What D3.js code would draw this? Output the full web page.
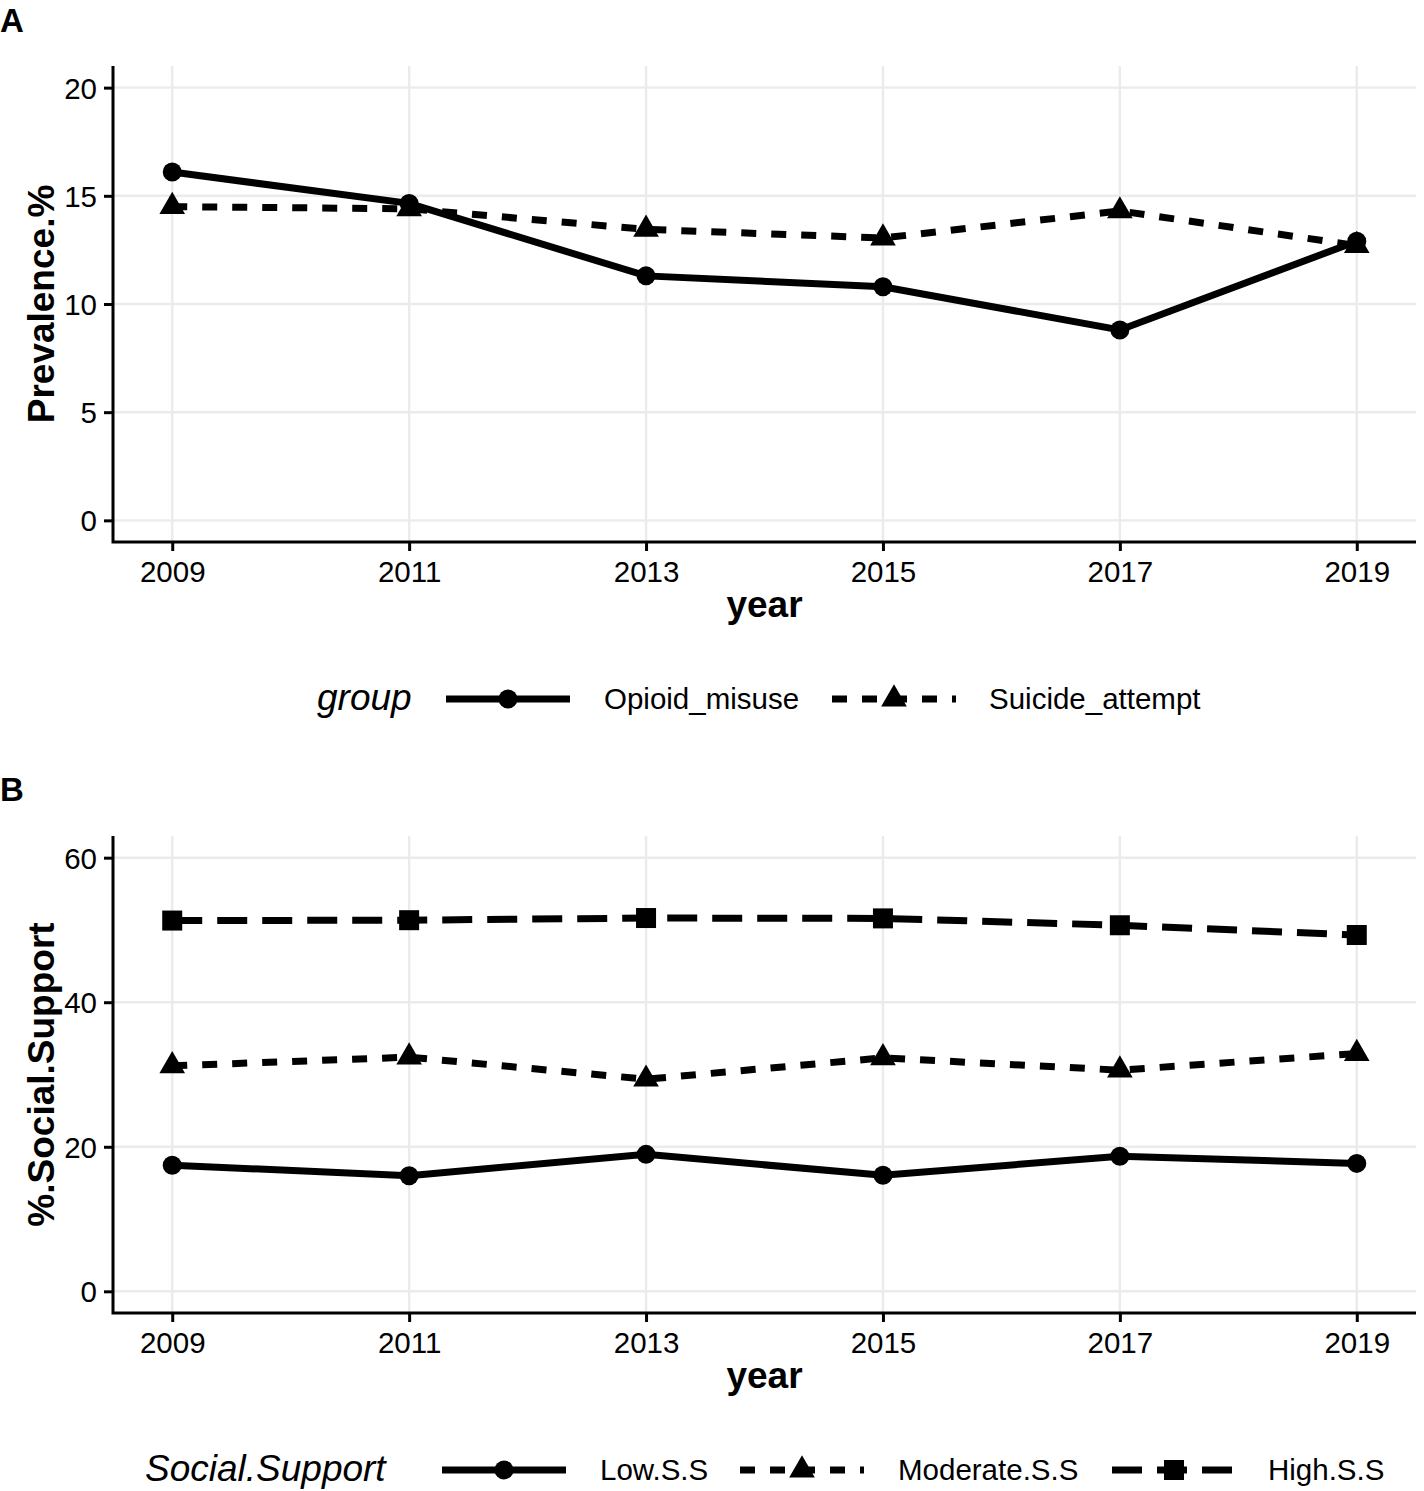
<!DOCTYPE html>
<html><head><meta charset="utf-8">
<script src="https://cdn.jsdelivr.net/npm/d3@7"></script>
<style>
body{margin:0;background:#fff}
svg{display:block}
text{font-family:"Liberation Sans",Arial,Helvetica,sans-serif;fill:#000}
</style>
</head><body>
<svg id="chart" width="1424" height="1491"></svg>
<script>
// ---- data ----
const years = [2009, 2011, 2013, 2015, 2017, 2019];
const opioidMisuse   = [16.1, 14.65, 11.3, 10.8, 8.8, 12.9];
const suicideAttempt = [14.5, 14.4, 13.45, 13.05, 14.3, 12.7];
const lowSS      = [17.45, 16.0, 18.95, 16.05, 18.7, 17.7];
const moderateSS = [31.2, 32.4, 29.35, 32.3, 30.6, 32.9];
const highSS     = [51.3, 51.35, 51.65, 51.6, 50.65, 49.3];
const yTicksA = [0, 5, 10, 15, 20];
const yTicksB = [0, 20, 40, 60];
const groupNamesA = ["Opioid_misuse", "Suicide_attempt"];
const groupNamesB = ["Low.S.S", "Moderate.S.S", "High.S.S"];

// ---- styles ----
const LW = 7;
const styles = {
  solid:    {dash: null,    shape: "circle"},
  dashed:   {dash: "15,15", shape: "triangle"},
  longdash: {dash: "30,15", shape: "square"}
};

const svg = d3.select("#chart");
const X0 = 113, X1 = 1416;

function marker(g, shape, x, y) {
  if (shape === "circle") {
    g.append("circle").attr("cx", x).attr("cy", y).attr("r", 9.5).attr("fill", "#000");
  } else if (shape === "triangle") {
    const r = 14.8, hw = r * Math.sqrt(3) / 2;
    g.append("path").attr("d", `M${x},${y - r}L${x + hw},${y + r / 2}L${x - hw},${y + r / 2}Z`).attr("fill", "#000");
  } else {
    g.append("rect").attr("x", x - 10).attr("y", y - 10).attr("width", 20).attr("height", 20).attr("fill", "#000");
  }
}

function panel(cfg) {
  const g = svg.append("g");
  const x = d3.scaleLinear().domain([2008.5, 2019.5]).range([X0, X1]);
  const y = d3.scaleLinear().domain(cfg.yDomain).range([cfg.yBottom, cfg.yTop]);

  // grid
  g.selectAll(".gy").data(cfg.yTicks).enter().append("line")
    .attr("x1", X0).attr("x2", X1).attr("y1", d => y(d)).attr("y2", d => y(d))
    .attr("stroke", "#ebebeb").attr("stroke-width", 2.4);
  g.selectAll(".gx").data(years).enter().append("line")
    .attr("x1", d => x(d)).attr("x2", d => x(d)).attr("y1", cfg.yTop).attr("y2", cfg.yBottom)
    .attr("stroke", "#ebebeb").attr("stroke-width", 2.4);

  // axes
  const xa = g.append("g").attr("transform", `translate(0,${cfg.yBottom})`)
    .call(d3.axisBottom(x).tickValues(years).tickFormat(d3.format("d")).tickSize(9).tickPadding(8));
  const ya = g.append("g").attr("transform", `translate(${X0},0)`)
    .call(d3.axisLeft(y).tickValues(cfg.yTicks).tickSize(9).tickPadding(7));
  [xa, ya].forEach(a => {
    a.select(".domain").remove();
    a.selectAll("line").attr("stroke", "#000").attr("stroke-width", 3);
    a.selectAll("text").attr("font-size", 29.5).attr("fill", "#000")
      .style("font-family", '"Liberation Sans",Arial,Helvetica,sans-serif');
  });
  xa.selectAll("text").attr("dy", null).attr("y", 40);
  ya.selectAll("text").attr("dy", "0.36em");
  g.append("path").attr("d", `M${X0},${cfg.yTop}V${cfg.yBottom}H${X1}`)
    .attr("fill", "none").attr("stroke", "#000").attr("stroke-width", 3);

  // titles
  g.append("text").attr("x", (X0 + X1) / 2).attr("y", cfg.yBottom + 75).attr("text-anchor", "middle")
    .attr("font-size", 37).attr("font-weight", "bold").text("year");
  g.append("text").attr("transform", `translate(54,${(cfg.yTop + cfg.yBottom) / 2}) rotate(-90)`)
    .attr("text-anchor", "middle").attr("font-size", 37).attr("font-weight", "bold").text(cfg.yTitle);
  g.append("text").attr("x", 0).attr("y", cfg.letterY).attr("font-size", 33).attr("font-weight", "bold").text(cfg.letter);

  // lines
  const line = d3.line().x((d, i) => x(years[i])).y(d => y(d));
  cfg.series.forEach(s => {
    const st = styles[s.style];
    g.append("path").datum(s.values).attr("d", line).attr("fill", "none")
      .attr("stroke", "#000").attr("stroke-width", LW)
      .attr("stroke-dasharray", st.dash);
  });
  cfg.series.forEach(s => {
    const st = styles[s.style];
    s.values.forEach((v, i) => marker(g, st.shape, x(years[i]), y(v)));
  });

  // legend
  const ly = cfg.legendY;
  g.append("text").attr("x", cfg.legendTitleX).attr("y", ly + 11).attr("font-size", 37)
    .attr("font-style", "italic").text(cfg.legendTitle);
  cfg.series.forEach((s, i) => {
    const st = styles[s.style];
    const k = cfg.legendKeys[i];
    g.append("line").attr("x1", k[0]).attr("x2", k[0] + 124).attr("y1", ly).attr("y2", ly)
      .attr("stroke", "#000").attr("stroke-width", LW).attr("stroke-dasharray", st.dash);
    marker(g, st.shape, k[0] + 62, ly);
    g.append("text").attr("x", k[1]).attr("y", ly + 10).attr("font-size", 29.5).text(s.name);
  });
}

panel({
  yDomain: [-1, 21], yTop: 66, yBottom: 542, yTicks: yTicksA,
  yTitle: "Prevalence.%", letter: "A", letterY: 32,
  series: [
    {name: groupNamesA[0], values: opioidMisuse, style: "solid"},
    {name: groupNamesA[1], values: suicideAttempt, style: "dashed"}
  ],
  legendY: 699, legendTitle: "group", legendTitleX: 317,
  legendKeys: [[446, 604], [832, 989]]
});

panel({
  yDomain: [-3, 63], yTop: 836, yBottom: 1313, yTicks: yTicksB,
  yTitle: "%.Social.Support", letter: "B", letterY: 801,
  series: [
    {name: groupNamesB[0], values: lowSS, style: "solid"},
    {name: groupNamesB[1], values: moderateSS, style: "dashed"},
    {name: groupNamesB[2], values: highSS, style: "longdash"}
  ],
  legendY: 1470, legendTitle: "Social.Support", legendTitleX: 145,
  legendKeys: [[442, 600], [740, 898], [1112, 1268]]
});
</script>
</body></html>
